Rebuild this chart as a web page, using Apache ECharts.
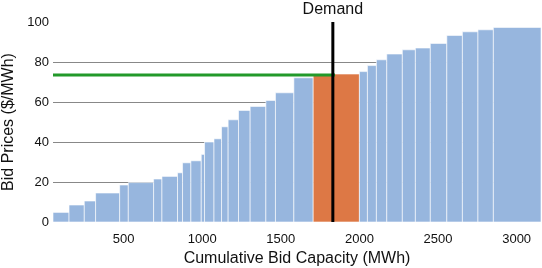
<!DOCTYPE html>
<html>
<head>
<meta charset="utf-8">
<script src="https://cdn.jsdelivr.net/npm/echarts@6/dist/echarts.min.js"></script>
<style>
html,body{margin:0;padding:0;background:#fff;}
#chart{width:542px;height:268px;}
</style>
</head>
<body>
<div id="chart"></div>
<script>
// Cumulative capacity edges of each bid block (MWh)
var capacityEdges = [51, 153, 250, 322, 475, 530, 691, 744, 843, 875, 928, 994, 1015, 1075, 1123, 1165, 1231, 1305, 1405, 1466, 1583, 1706, 2000, 2051, 2108, 2174, 2273, 2356, 2451, 2556, 2655, 2754, 2852, 3155];
// Bid price of each block ($/MWh)
var bidPrices = [4.8, 8.5, 10.5, 14.5, 18.5, 19.7, 21.5, 22.8, 24.6, 29.6, 30.6, 33.8, 40, 41.6, 47.6, 51.1, 55.8, 57.8, 60.8, 64.6, 72.1, 74, 75.2, 78.2, 81.1, 84, 86.1, 87, 89.3, 93.3, 95.1, 96.1, 97.3];
var demand = 1831;
var clearingPrice = 73.5;
var clearingLineEnd = 1845;
var yTicks = [0, 20, 40, 60, 80, 100];

var FONT = 'Liberation Sans, Arial, sans-serif';
var blue = '#97b6de';
var orange = '#dd7845';

var blocks = [];
for (var i = 0; i < bidPrices.length; i++) {
  var x0 = capacityEdges[i], x1 = capacityEdges[i + 1];
  var marginal = (x0 <= demand && demand < x1) ? 1 : 0;
  blocks.push([x0, x1, bidPrices[i], marginal]);
}

var chart = echarts.init(document.getElementById('chart'), null, {renderer: 'canvas'});
chart.setOption({
  animation: false,
  backgroundColor: '#fff',
  grid: {left: 53, right: 1, top: 22, bottom: 46, containLabel: false, outerBoundsMode: 'none'},
  xAxis: {
    type: 'value',
    min: capacityEdges[0],
    max: capacityEdges[capacityEdges.length - 1],
    name: 'Cumulative Bid Capacity (MWh)',
    nameLocation: 'middle',
    nameGap: 29,
    nameTextStyle: {fontFamily: FONT, fontSize: 16, color: '#111'},
    axisLine: {show: false},
    axisTick: {show: false},
    splitLine: {show: false},
    axisLabel: {fontFamily: FONT, fontSize: 13, color: '#111', margin: 11, showMinLabel: false, showMaxLabel: false,
      formatter: function (v) { return String(v); }}
  },
  yAxis: {
    type: 'value',
    min: yTicks[0],
    max: yTicks[yTicks.length - 1],
    interval: 20,
    name: 'Bid Prices ($/MWh)',
    nameLocation: 'middle',
    nameGap: 34,
    nameTextStyle: {fontFamily: FONT, fontSize: 16, color: '#111'},
    axisLine: {show: false},
    axisTick: {show: false},
    axisLabel: {fontFamily: FONT, fontSize: 13, color: '#111', margin: 4},
    splitLine: {show: true, showMinLine: false, showMaxLine: false, lineStyle: {color: '#888', width: 1}}
  },
  series: [
    {
      type: 'custom',
      data: blocks,
      encode: {x: [0, 1], y: 2},
      renderItem: function (params, api) {
        var p0 = api.coord([api.value(0), api.value(2)]);
        var p1 = api.coord([api.value(1), 0]);
        return {
          type: 'rect',
          shape: {x: p0[0], y: p0[1], width: p1[0] - p0[0], height: p1[1] - p0[1]},
          style: {fill: api.value(3) ? orange : blue, stroke: 'rgba(255,255,255,0.6)', lineWidth: 1}
        };
      },
      z: 2
    },
    {
      type: 'line',
      data: [[capacityEdges[0], clearingPrice], [clearingLineEnd, clearingPrice]],
      symbol: 'none',
      lineStyle: {color: '#22992a', width: 3},
      z: 3
    },
    {
      type: 'line',
      data: [[demand, yTicks[0]], [demand, yTicks[yTicks.length - 1]]],
      symbol: 'none',
      lineStyle: {color: '#000', width: 3},
      endLabel: {show: true, formatter: 'Demand', fontFamily: FONT, fontSize: 16, color: '#111', distance: 0, offset: [0, -4], align: 'center', verticalAlign: 'bottom'},
      z: 4
    }
  ]
});
</script>
</body>
</html>
